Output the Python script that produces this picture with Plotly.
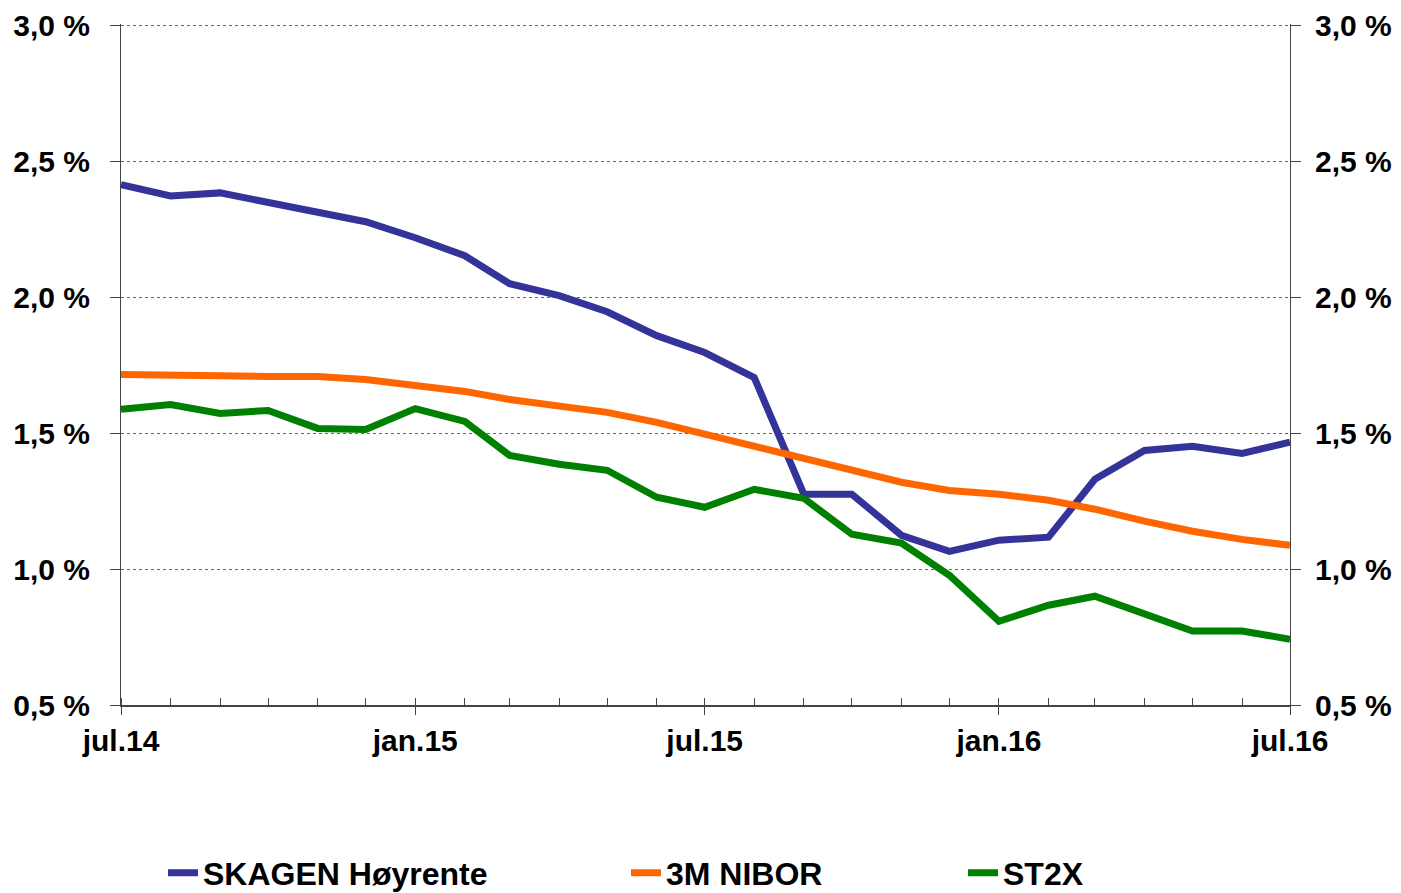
import plotly.graph_objects as go

months = ["2014-07-01", "2014-08-01", "2014-09-01", "2014-10-01", "2014-11-01", "2014-12-01",
          "2015-01-01", "2015-02-01", "2015-03-01", "2015-04-01", "2015-05-01", "2015-06-01",
          "2015-07-01", "2015-08-01", "2015-09-01", "2015-10-01", "2015-11-01", "2015-12-01",
          "2016-01-01", "2016-02-01", "2016-03-01", "2016-04-01", "2016-05-01", "2016-06-01",
          "2016-07-01"]

skagen = [2.413, 2.372, 2.383, 2.350, 2.313, 2.277, 2.218, 2.152, 2.049, 2.005, 1.946, 1.858,
          1.796, 1.704, 1.275, 1.275, 1.124, 1.065, 1.106, 1.117, 1.330, 1.436, 1.451, 1.425,
          1.466]
nibor = [1.715, 1.715, 1.711, 1.708, 1.708, 1.697, 1.678, 1.653, 1.623, 1.601, 1.576, 1.539,
         1.495, 1.451, 1.407, 1.359, 1.319, 1.289, 1.275, 1.253, 1.220, 1.176, 1.139, 1.109,
         1.087]
st2x = [1.587, 1.605, 1.572, 1.583, 1.517, 1.513, 1.590, 1.543, 1.418, 1.385, 1.363, 1.264,
        1.227, 1.293, 1.260, 1.128, 1.095, 0.977, 0.808, 0.867, 0.900, 0.838, 0.772, 0.772,
        0.742]

series_names = ["SKAGEN Høyrente", "3M NIBOR", "ST2X"]
series_colors = ["#333399", "#FF6600", "#008000"]

xtick_vals = ["2014-07-01", "2015-01-01", "2015-07-01", "2016-01-01", "2016-07-01"]
xtick_text = ["jul.14", "jan.15", "jul.15", "jan.16", "jul.16"]
ytick_vals = [0.5, 1.0, 1.5, 2.0, 2.5, 3.0]
ytick_text = ["0,5 %", "1,0 %", "1,5 %", "2,0 %", "2,5 %", "3,0 %"]

FONT = "Liberation Sans, Arial, sans-serif"
W, H = 1401, 893
PW, PH = 1169, 681
ML, MT = 113, 16
MR = W - ML - PW
MB = H - MT - PH

fig = go.Figure()
legends = ["legend", "legend2", "legend3"]
for data, name, color, lg in zip([skagen, nibor, st2x], series_names, series_colors, legends):
    fig.add_trace(go.Scatter(x=months, y=data, name=name, mode="lines",
                             line=dict(color=color, width=7), legend=lg))

# invisible trace to carry the right-hand axis
fig.add_trace(go.Scatter(x=months, y=nibor, yaxis="y2", mode="lines",
                         line=dict(color="rgba(0,0,0,0)", width=0), showlegend=False,
                         hoverinfo="skip"))

# slight headroom so the top dotted gridline (3,0 %) is drawn
yrange = [0.5, 3.004]

yax = dict(range=yrange, tickvals=ytick_vals, ticktext=ytick_text,
           showline=True, linecolor="#444444", linewidth=1,
           ticks="outside", ticklen=10, tickcolor="#444444",
           ticklabeloverflow="allow",
           tickfont=dict(family=FONT, size=30, color="black", weight="bold"),
           zeroline=False)

legend_font = dict(family=FONT, size=32, color="black", weight="bold")
legend_y = 1 - 865 / H


def legend_at(px_left):
    return dict(x=(px_left - ML) / PW, xanchor="left", xref="paper",
                y=legend_y, yref="container", yanchor="middle",
                font=legend_font, bgcolor="rgba(0,0,0,0)")


fig.update_layout(
    width=W, height=H,
    plot_bgcolor="white", paper_bgcolor="white",
    margin=dict(l=ML, r=MR, t=MT, b=MB, autoexpand=False),
    showlegend=True,
    xaxis=dict(range=["2014-07-01", "2016-07-01"], tickvals=xtick_vals, ticktext=xtick_text,
               showline=True, linecolor="#444444", linewidth=1.5,
               ticks="outside", ticklen=8, tickcolor="#444444",
               ticklabeloverflow="allow",
               minor=dict(dtick="M1", ticks="inside", ticklen=7, tickcolor="#444444",
                          showgrid=False),
               showgrid=False, zeroline=False,
               tickfont=dict(family=FONT, size=30, color="black", weight="bold")),
    yaxis=dict(**yax, showgrid=True, gridcolor="#666666", griddash="dot", gridwidth=1,
               side="left", ticklabelstandoff=14),
    yaxis2=dict(**yax, overlaying="y", side="right", showgrid=False, ticklabelstandoff=8),
    legend=legend_at(155),
    legend2=legend_at(618),
    legend3=legend_at(955),
)

fig.write_html("out.html")
